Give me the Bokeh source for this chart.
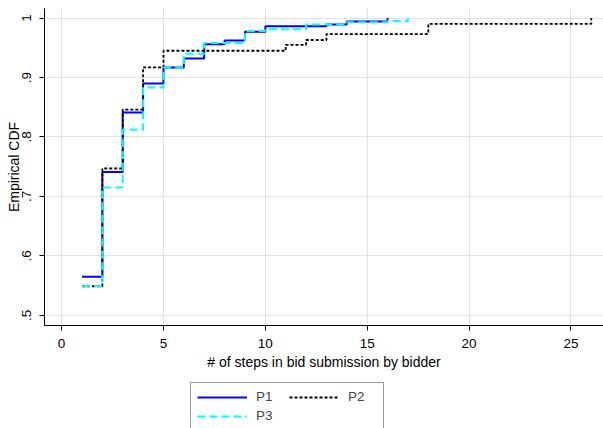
from bokeh.plotting import figure
from bokeh.layouts import column
from bokeh.models import Range1d, FixedTicker, CustomJSTickFormatter, Legend, LegendItem
from bokeh.embed import file_html
from bokeh.resources import INLINE

# ---- data ----
p1_x = [1, 2, 3, 4, 5, 6, 7, 8, 9, 10, 13, 14, 16]
p1_y = [0.565, 0.741, 0.841, 0.890, 0.917, 0.932, 0.956, 0.962, 0.977, 0.986, 0.989, 0.994, 1.0]

p2_x = [1, 2, 3, 4, 5, 11, 12, 13, 18, 26]
p2_y = [0.549, 0.747, 0.846, 0.917, 0.945, 0.955, 0.963, 0.973, 0.990, 1.0]

p3_x = [1, 2, 3, 4, 5, 6, 7, 9, 10, 12, 14, 16, 17]
p3_y = [0.549, 0.715, 0.812, 0.883, 0.917, 0.940, 0.958, 0.978, 0.981, 0.989, 0.993, 0.995, 1.0]

series_labels = ["P1", "P2", "P3"]
x_ticks = [0, 5, 10, 15, 20, 25]
y_ticks = [0.5, 0.6, 0.7, 0.8, 0.9, 1.0]

FONT = "Liberation Sans"
STYLES = [dict(line_color="#0000ff", line_width=2),
          dict(line_color="black", line_width=1.8, line_dash="3 2"),
          dict(line_color="#00ffff", line_width=2, line_dash="8 4")]

p = figure(width=603, height=372, output_backend="svg", toolbar_location=None,
           x_range=Range1d(-0.84, 26.6), y_range=Range1d(0.483, 1.016),
           min_border_left=44, min_border_right=0, min_border_top=8, min_border_bottom=46)
p.outline_line_color = None
p.background_fill_color = "white"
p.border_fill_color = "white"

for xs, ys, st in zip([p1_x, p2_x, p3_x], [p1_y, p2_y, p3_y], STYLES):
    p.step(xs, ys, mode="after", **st)

for ax in (p.xaxis[0], p.yaxis[0]):
    ax.major_label_text_font = FONT
    ax.major_label_text_font_size = "13.5px"
    ax.major_label_text_color = "black"
    ax.axis_label_text_font = FONT
    ax.axis_label_text_font_size = "14px"
    ax.axis_label_text_font_style = "normal"
    ax.axis_label_text_color = "black"
    ax.axis_line_color = "black"
    ax.major_tick_line_color = "black"
    ax.major_tick_out = 5
    ax.major_tick_in = 0
    ax.minor_tick_line_color = None

p.xaxis.major_label_standoff = 8
p.xaxis.axis_label_standoff = 3
p.yaxis.major_label_standoff = 8
p.yaxis.axis_label_standoff = -2

p.xaxis.ticker = FixedTicker(ticks=x_ticks)
p.yaxis.ticker = FixedTicker(ticks=y_ticks)
p.yaxis.formatter = CustomJSTickFormatter(code="""
    if (tick >= 1) return '1';
    return tick.toFixed(1).replace(/^0/, '');
""")
p.yaxis.major_label_orientation = "vertical"
p.xaxis.axis_label = "# of steps in bid submission by bidder"
p.yaxis.axis_label = "Empirical CDF"

p.xgrid.grid_line_color = "#e2e2e2"
p.ygrid.grid_line_color = "#e2e2e2"
p.xgrid.ticker = FixedTicker(ticks=x_ticks)
p.ygrid.ticker = FixedTicker(ticks=y_ticks)

# ---- legend strip below the plot ----
leg_fig = figure(width=603, height=56, output_backend="svg", toolbar_location=None,
                 x_range=Range1d(0, 603), y_range=Range1d(0, 56),
                 x_axis_type=None, y_axis_type=None, min_border=0)
leg_fig.outline_line_color = None
leg_fig.xgrid.visible = False
leg_fig.ygrid.visible = False
# legend-only renderers, placed outside the visible range
dummies = [leg_fig.line([-100, -90], [-100, -100], **st) for st in STYLES]

legend = Legend(items=[LegendItem(label=lab, renderers=[r]) for lab, r in zip(series_labels, dummies)],
                location=(146, -2), ncols=2, orientation="horizontal")
legend.label_text_font = FONT
legend.label_text_font_size = "13.5px"
legend.border_line_color = "#333333"
legend.border_line_width = 1
legend.glyph_width = 50
legend.glyph_height = 14
legend.spacing = 4
legend.padding = 6
legend.margin = 0
legend.label_standoff = 9
legend.label_width = 29
legend.background_fill_alpha = 1
leg_fig.add_layout(legend, "center")

open("out.html", "w").write(file_html(column(p, leg_fig, spacing=0), INLINE))
